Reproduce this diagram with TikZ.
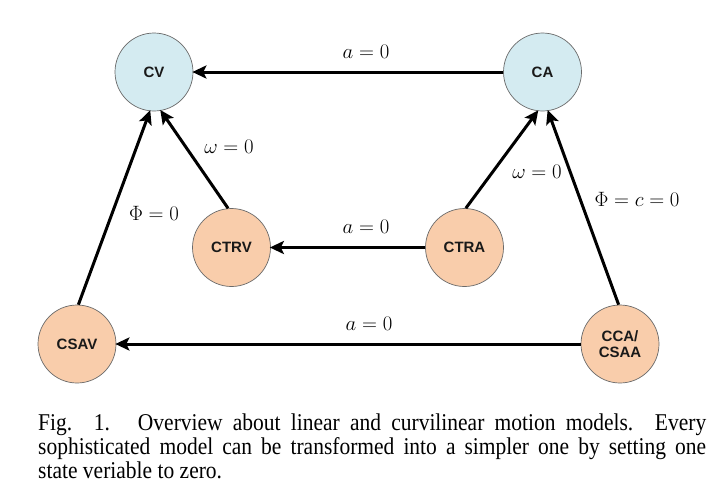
\documentclass[tikz,border=0pt]{standalone}
\usepackage{fontspec}
\setmainfont{Liberation Serif}
\setsansfont{Liberation Sans}
\usetikzlibrary{arrows.meta}
\definecolor{nodeblue}{HTML}{D4EBF1}
\definecolor{nodeorange}{HTML}{F9CDAB}
\definecolor{nodeedge}{HTML}{6A6A6A}
\begin{document}
\begin{tikzpicture}[x=1pt,y=-1pt,
  model/.style={circle, draw=nodeedge, line width=0.7pt, minimum size=78pt, inner sep=0pt,
    font=\sffamily\bfseries\fontsize{15}{16.5}\selectfont, text=black!90, align=center},
  bluemodel/.style={model, fill=nodeblue},
  orangemodel/.style={model, fill=nodeorange},
  conn/.style={line width=3pt, -{Stealth[length=14pt,width=13pt,inset=3pt]}, shorten >=-1pt},
  lbl/.style={font=\fontsize{20}{24}\selectfont, inner sep=0pt},
  captionline/.style={anchor=base west, inner sep=0pt, font=\fontsize{21.5}{24}\selectfont}]
\useasboundingbox (0,0) rectangle (723,488);
\fill[white] (0,0) rectangle (723,488);

\node[bluemodel] (cv) at (154,72) {CV};
\node[bluemodel] (ca) at (542.5,72) {CA};
\node[orangemodel] (ctrv) at (231.5,247.5) {CTRV};
\node[orangemodel] (ctra) at (464.5,247.5) {CTRA};
\node[orangemodel] (csav) at (77,344) {CSAV};
\node[orangemodel] (cca) at (620,344) {CCA/\\CSAA};

\draw[conn] (ca.west) -- (cv.east);
\draw[conn] (ctra.west) -- (ctrv.east);
\draw[conn] (cca.west) -- (csav.east);
\draw[conn] (csav.88) -- (cv.-96);
\draw[conn] (ctrv.95) -- (cv.-80);
\draw[conn] (ctra.88) -- (ca.-97);
\draw[conn] (cca.92) -- (ca.-82);

\node[lbl] (l1) at (366,52) {$a=0$};
\node[lbl] (l2) at (229,147) {$\omega=0$};
\node[lbl] (l3) at (154,213) {$\Phi=0$};
\node[lbl] (l4) at (537,172) {$\omega=0$};
\node[lbl] (l5) at (637,199) {$\Phi=c=0$};
\node[lbl] (l6) at (366,227) {$a=0$};
\node[lbl] (l7) at (369,324) {$a=0$};

\node[captionline] (c1) at (38,430) {\scalebox{1}[1.12]{\makebox[668pt][s]{Fig. 1.\hspace{1.3em}Overview about linear and curvilinear motion models. Every}}};
\node[captionline] (c2) at (38,454) {\scalebox{1}[1.12]{\makebox[668pt][s]{sophisticated model can be transformed into a simpler one by setting one}}};
\node[captionline] (c3) at (38,478) {\scalebox{1}[1.12]{state veriable to zero.}};
\end{tikzpicture}
\end{document}
